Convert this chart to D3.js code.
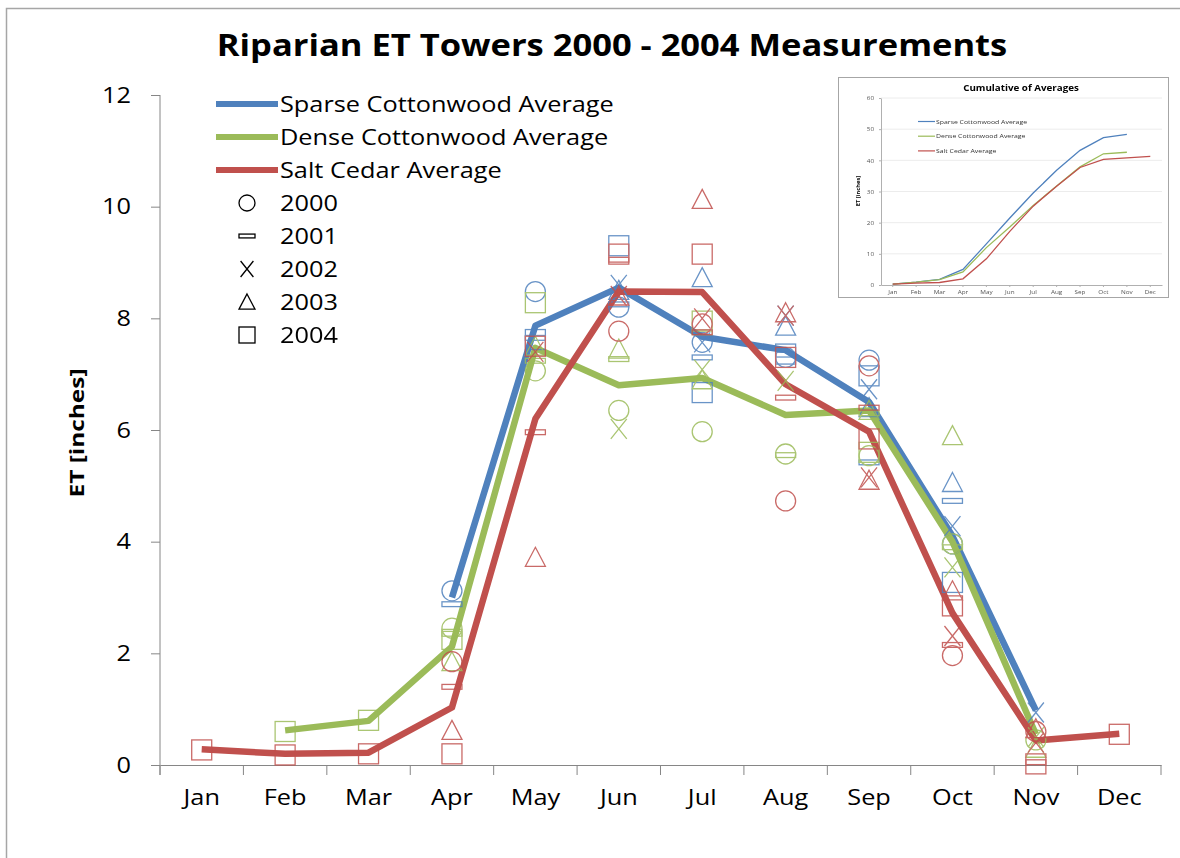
<!DOCTYPE html>
<meta charset='utf-8'>
<head>
  <title>Riparian ET Towers</title>
  <style>
    body { margin: 0; background: #fff; }
    text { font-family: 'Open Sans', sans-serif; fill: #000; }
  </style>
</head>
<body>
  <div id='chart'></div>
</body>
<script src='https://d3js.org/d3.v7.min.js'></script>
<script>

// ---- data ----
var months = ['Jan', 'Feb', 'Mar', 'Apr', 'May', 'Jun', 'Jul', 'Aug', 'Sep', 'Oct', 'Nov', 'Dec'];
var yTicks = [0, 2, 4, 6, 8, 10, 12];
var years = ['2000', '2001', '2002', '2003', '2004'];

var sparseAvg = [null, null, null, 3.0, 7.87, 8.55, 7.67, 7.43, 6.5, 4.1, 0.98, null];
var denseAvg  = [null, 0.62, 0.79, 2.12, 7.47, 6.8, 6.93, 6.27, 6.35, 4.0, 0.55, null];
var saltAvg   = [0.28, 0.2, 0.22, 1.03, 6.2, 8.48, 8.47, 6.82, 5.97, 2.72, 0.44, 0.56];

// individual years (markers)
var sparse2000 = [null, null, null, 3.12, 8.48, 8.2, 7.57, 7.3, 7.25, 3.96, null, null];
var sparse2001 = [null, null, null, 2.88, 7.65, 8.25, 7.3, 7.35, 5.42, 4.73, null, null];
var sparse2002 = [null, null, null, null, null, 8.6, 7.57, 8.05, 6.73, 4.28, 0.94, null];
var sparse2003 = [null, null, null, null, null, 8.5, 8.73, 7.86, 6.4, 5.06, null, null];
var sparse2004 = [null, null, null, null, 7.62, 9.3, 6.67, 7.36, 6.97, 3.27, null, null];

var dense2000 = [null, null, null, 2.45, 7.06, 6.35, 5.97, 5.57, 5.54, 3.96, 0.45, null];
var dense2001 = [null, null, null, 2.35, 7.24, 7.27, 7.75, 5.55, 6.3, 3.9, null, null];
var dense2002 = [null, null, null, null, null, 6.02, 7.08, 6.88, null, 3.54, 0.5, null];
var dense2003 = [null, null, null, 1.85, 7.5, 7.45, 6.9, null, 6.35, 5.9, 0.3, null];
var dense2004 = [null, 0.6, 0.8, 2.25, 8.28, null, 7.95, null, 5.6, null, null, null];

var salt2000 = [null, null, null, 1.85, null, 7.77, 7.9, 4.73, 7.15, 1.96, 0.6, null];
var salt2001 = [null, null, null, 1.4, 5.96, 9.05, 7.75, 6.58, 6.4, 2.15, 0.05, null];
var salt2002 = [null, null, null, null, 7.4, 8.4, 8.0, 8.05, 5.15, 2.31, 0.4, null];
var salt2003 = [null, null, null, 0.62, 3.72, 8.4, 10.13, 8.1, 5.1, 3.12, 0.65, null];
var salt2004 = [0.27, 0.18, 0.2, 0.2, 7.5, 9.15, 9.15, 7.3, 5.84, 2.85, 0.02, 0.55];

// inset: cumulative of averages
var cumTicks = [0, 10, 20, 30, 40, 50, 60];
var cumSparse = [0.3, 0.9, 1.8, 5.0, 13.2, 21.5, 29.5, 36.8, 43.2, 47.3, 48.3, null];
var cumDense  = [0.3, 0.9, 1.7, 4.2, 12.0, 18.6, 25.5, 31.8, 37.9, 42.1, 42.6, null];
var cumSalt   = [0.3, 0.6, 0.8, 2.0, 8.4, 17.2, 25.3, 31.7, 37.7, 40.3, 40.8, 41.3];

var blue = '#4f81bd', green = '#9bbb59', red = '#c0504d';

var series = [
  {name: 'Sparse Cottonwood Average', color: blue, avg: sparseAvg, cum: cumSparse,
   years: [sparse2000, sparse2001, sparse2002, sparse2003, sparse2004]},
  {name: 'Dense Cottonwood Average', color: green, avg: denseAvg, cum: cumDense,
   years: [dense2000, dense2001, dense2002, dense2003, dense2004]},
  {name: 'Salt Cedar Average', color: red, avg: saltAvg, cum: cumSalt,
   years: [salt2000, salt2001, salt2002, salt2003, salt2004]}
];

// ---- layout ----
var width = 1180, height = 858;

var svg = d3.select('#chart').append('svg')
    .attr('width', width)
    .attr('height', height);

svg.append('rect')
    .attr('x', 6.5).attr('y', 8.5)
    .attr('width', 1200).attr('height', 900)
    .attr('fill', '#fff')
    .attr('stroke', '#a6a6a6')
    .attr('stroke-width', 1.5);

var x = d3.scaleBand().domain(months).range([160, 1161]);
var y = d3.scaleLinear().domain([0, 12]).range([765, 95]);

// title
svg.append('text')
    .attr('x', 612).attr('y', 56)
    .attr('text-anchor', 'middle')
    .style('font-size', '30px')
    .style('font-weight', 'bold')
    .text('Riparian ET Towers 2000 - 2004 Measurements');

// axes
var xAxis = svg.append('g')
    .attr('transform', 'translate(0,765)')
    .call(d3.axisBottom(x).tickSize(10).tickSizeOuter(0).tickPadding(14));
// ticks on band edges, Excel style
xAxis.selectAll('.tick line').remove();
xAxis.selectAll('.tick').each(function(d) {
  d3.select(this).append('line')
      .attr('x1', -x.bandwidth() / 2).attr('x2', -x.bandwidth() / 2)
      .attr('y1', 0).attr('y2', 10);
});
xAxis.append('line')
    .attr('x1', 1161).attr('x2', 1161).attr('y1', 0).attr('y2', 10);

var yAxis = svg.append('g')
    .attr('transform', 'translate(160,0)')
    .call(d3.axisLeft(y).tickValues(yTicks).tickSize(9).tickSizeOuter(0).tickPadding(20));

[xAxis, yAxis].forEach(function(g) {
  g.select('.domain').attr('stroke', '#868686');
  g.selectAll('line').attr('stroke', '#868686');
  g.selectAll('text').style('font-size', '22px').style('font-family', "'Open Sans', sans-serif");
});
yAxis.select('.domain').attr('d', 'M0,95V775');

svg.append('text')
    .attr('class', 'ylab')
    .attr('transform', 'translate(84,433) rotate(-90)')
    .attr('text-anchor', 'middle')
    .style('font-size', '19px')
    .style('font-weight', 'bold')
    .text('ET [inches]');

// marker shapes by year
function marker(g, yr, s, color) {
  var h = s / 2;
  if (yr === 0) {
    g.append('circle').attr('r', h);
  } else if (yr === 1) {
    g.append('rect').attr('x', -h).attr('y', -s * 0.12).attr('width', s).attr('height', s * 0.24);
  } else if (yr === 2) {
    g.append('path').attr('d', 'M' + (-h * 0.8) + ',' + (-h) + 'L' + (h * 0.8) + ',' + h +
        'M' + (h * 0.8) + ',' + (-h) + 'L' + (-h * 0.8) + ',' + h);
  } else if (yr === 3) {
    g.append('path').attr('d', 'M0,' + (-h) + 'L' + h + ',' + (h * 0.9) + 'L' + (-h) + ',' + (h * 0.9) + 'Z');
  } else {
    g.append('rect').attr('x', -h).attr('y', -h).attr('width', s).attr('height', s);
  }
  g.selectAll('*').attr('fill', 'none').attr('stroke', color).attr('stroke-width', 1.3);
}

var line = d3.line()
    .defined(function(d) { return d != null; })
    .x(function(d, i) { return x(months[i]) + x.bandwidth() / 2; })
    .y(function(d) { return y(d); });

// average lines
svg.append('g').selectAll('path')
    .data(series)
  .enter().append('path')
    .attr('d', function(s) { return line(s.avg); })
    .attr('fill', 'none')
    .attr('stroke', function(s) { return s.color; })
    .attr('stroke-width', 6.5)
    .attr('stroke-linejoin', 'round');

// yearly markers
var pts = svg.append('g').attr('opacity', 0.85);
series.forEach(function(s) {
  s.years.forEach(function(vals, yi) {
    vals.forEach(function(v, mi) {
      if (v == null) return;
      var g = pts.append('g')
          .attr('transform', 'translate(' + (x(months[mi]) + x.bandwidth() / 2) + ',' + y(v) + ')');
      marker(g, yi, 20, s.color);
    });
  });
});

// legend
var legend = svg.append('g');
series.forEach(function(s, i) {
  var ly = 104 + i * 33;
  legend.append('line')
      .attr('x1', 216).attr('x2', 278).attr('y1', ly).attr('y2', ly)
      .attr('stroke', s.color).attr('stroke-width', 6);
  legend.append('text')
      .attr('x', 280).attr('y', ly + 8)
      .style('font-size', '22px')
      .text(s.name);
});
years.forEach(function(yr, i) {
  var ly = 203 + i * 33;
  var g = legend.append('g').attr('transform', 'translate(247,' + ly + ')');
  marker(g, i, 16, '#000');
  legend.append('text')
      .attr('x', 280).attr('y', ly + 8)
      .style('font-size', '22px')
      .text(yr);
});

// ---- inset: cumulative of averages ----
var inset = svg.append('g');
inset.append('rect')
    .attr('x', 838.5).attr('y', 77.5)
    .attr('width', 330).attr('height', 220)
    .attr('fill', '#fff')
    .attr('stroke', '#a6a6a6');

var ix = d3.scaleBand().domain(months).range([881, 1162]);
var iy = d3.scaleLinear().domain([0, 60]).range([285, 98]);

inset.append('g').selectAll('line')
    .data(cumTicks.slice(1))
  .enter().append('line')
    .attr('x1', 881).attr('x2', 1162)
    .attr('y1', function(d) { return iy(d); }).attr('y2', function(d) { return iy(d); })
    .attr('stroke', '#ececec');

var ixAxis = inset.append('g')
    .attr('transform', 'translate(0,285)')
    .call(d3.axisBottom(ix).tickSize(2).tickSizeOuter(0).tickPadding(3));
var iyAxis = inset.append('g')
    .attr('transform', 'translate(881,0)')
    .call(d3.axisLeft(iy).tickValues(cumTicks).tickSize(2).tickSizeOuter(0).tickPadding(5));
[ixAxis, iyAxis].forEach(function(g) {
  g.select('.domain').attr('stroke', '#b0b0b0');
  g.selectAll('line').attr('stroke', '#b0b0b0');
  g.selectAll('text').style('font-size', '5.5px').style('fill', '#555')
      .style('font-family', "'Open Sans', sans-serif");
});

inset.append('text')
    .attr('x', 1021).attr('y', 91)
    .attr('text-anchor', 'middle')
    .style('font-size', '8.5px')
    .style('font-weight', 'bold')
    .text('Cumulative of Averages');

inset.append('text')
    .attr('transform', 'translate(860,191) rotate(-90)')
    .attr('text-anchor', 'middle')
    .style('font-size', '5px')
    .style('font-weight', 'bold')
    .text('ET [inches]');

var iline = d3.line()
    .defined(function(d) { return d != null; })
    .x(function(d, i) { return ix(months[i]) + ix.bandwidth() / 2; })
    .y(function(d) { return iy(d); });

inset.append('g').selectAll('path')
    .data(series)
  .enter().append('path')
    .attr('d', function(s) { return iline(s.cum); })
    .attr('fill', 'none')
    .attr('stroke', function(s) { return s.color; })
    .attr('stroke-width', 1.3);

series.forEach(function(s, i) {
  var ly = 121.5 + i * 14.7;
  inset.append('line')
      .attr('x1', 918).attr('x2', 935).attr('y1', ly).attr('y2', ly)
      .attr('stroke', s.color).attr('stroke-width', 1.2);
  inset.append('text')
      .attr('x', 936).attr('y', ly + 2)
      .style('font-size', '6px')
      .style('fill', '#333')
      .text(s.name);
});

// the reference's lettering runs wider than Open Sans: stretch each label
svg.selectAll('text').each(function() {
  if (d3.select(this).classed('ylab')) {
    d3.select(this).attr('textLength', 129).attr('lengthAdjust', 'spacingAndGlyphs');
    return;
  }
  var w = this.getComputedTextLength();
  d3.select(this).attr('textLength', w * 1.15).attr('lengthAdjust', 'spacingAndGlyphs');
});

</script>
